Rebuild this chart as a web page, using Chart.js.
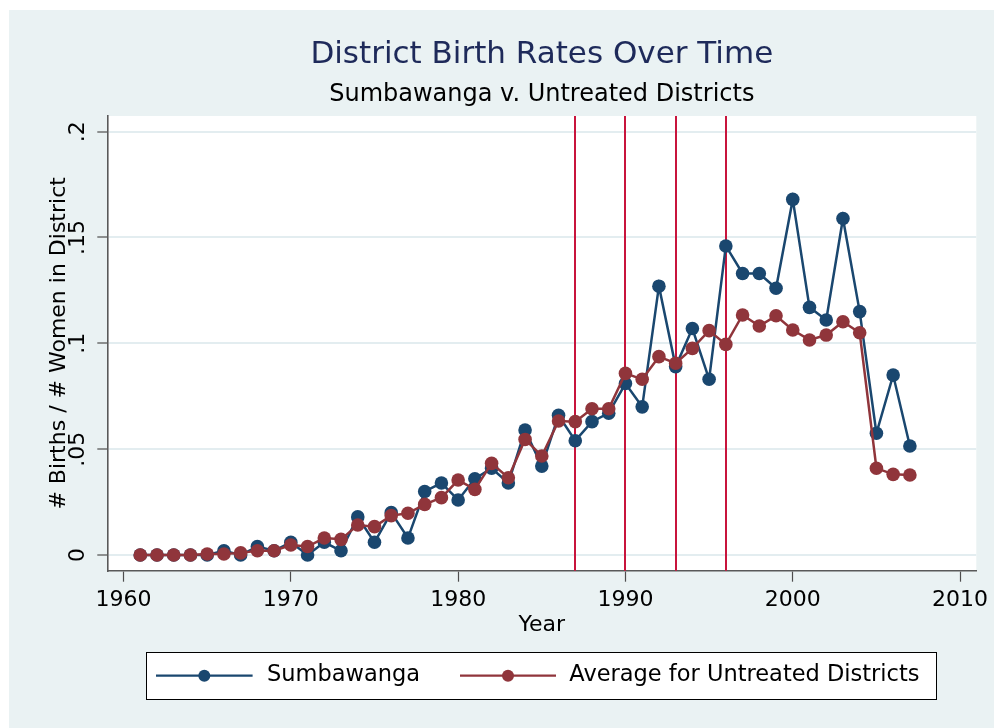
<!DOCTYPE html>
<html>
<head>
<meta charset="utf-8">
<script src="https://cdn.jsdelivr.net/npm/chart.js@4.4.0/dist/chart.umd.min.js"></script>
<style>
  html, body { margin: 0; padding: 0; background: #ffffff; }
  #wrap { position: absolute; left: 9px; top: 10px; width: 985px; height: 718px; background: #eaf2f3; }
</style>
</head>
<body>
<div id="wrap"><canvas id="chart" width="985" height="718"></canvas></div>
<script>
// data
const years = [1961, 1962, 1963, 1964, 1965, 1966, 1967, 1968, 1969, 1970,
  1971, 1972, 1973, 1974, 1975, 1976, 1977, 1978, 1979, 1980,
  1981, 1982, 1983, 1984, 1985, 1986, 1987, 1988, 1989, 1990,
  1991, 1992, 1993, 1994, 1995, 1996, 1997, 1998, 1999, 2000,
  2001, 2002, 2003, 2004, 2005, 2006, 2007];

const sumbawanga = [0, 0, 0, 0, 0, 0.002, 0, 0.004, 0.002, 0.006,
  0, 0.006, 0.002, 0.018, 0.006, 0.020, 0.008, 0.030, 0.034, 0.026,
  0.036, 0.041, 0.034, 0.059, 0.042, 0.066, 0.054, 0.063, 0.067, 0.081,
  0.070, 0.127, 0.089, 0.107, 0.083, 0.146, 0.133, 0.133, 0.126, 0.168,
  0.117, 0.111, 0.159, 0.115, 0.0575, 0.085, 0.0515];

const untreatedAvg = [0, 0, 0, 0, 0.0005, 0.0005, 0.001, 0.002, 0.002, 0.0047,
  0.004, 0.008, 0.0074, 0.0142, 0.0134, 0.0186, 0.0197, 0.0239, 0.0271, 0.0354,
  0.031, 0.0433, 0.0365, 0.0546, 0.0468, 0.0633, 0.063, 0.0691, 0.0691, 0.0858,
  0.083, 0.0937, 0.0906, 0.0976, 0.106, 0.0995, 0.1134, 0.1082, 0.113, 0.1063,
  0.1016, 0.1039, 0.1102, 0.105, 0.041, 0.0381, 0.0378];

const policyYears = [1987, 1990, 1993, 1996];

const xTicks = [1960, 1970, 1980, 1990, 2000, 2010];
const yTicks = [0, 0.05, 0.1, 0.15, 0.2];
const yTickLabels = ["0", ".05", ".1", ".15", ".2"];

const seriesNames = ["Sumbawanga", "Average for Untreated Districts"];

const BLUE = "#1a476f";
const RED = "#90353b";
const FONT = "'DejaVu Sans', sans-serif";

const toPoints = (vals) => years.map((yr, i) => ({ x: yr, y: vals[i] }));

// white plot region + the vertical lines under the series
const plotDecor = {
  id: "plotDecor",
  beforeDraw(chart) {
    const { ctx, chartArea: a } = chart;
    ctx.save();
    ctx.fillStyle = "#ffffff";
    ctx.fillRect(a.left, a.top, a.right - a.left, a.bottom - a.top);
    ctx.restore();
  },
  beforeDatasetsDraw(chart) {
    const { ctx, chartArea: a } = chart;
    const xs = chart.scales.x;
    ctx.save();
    ctx.strokeStyle = "#c8143c";
    ctx.lineWidth = 2;
    policyYears.forEach((yr) => {
      const px = Math.round(xs.getPixelForValue(yr));
      ctx.beginPath();
      ctx.moveTo(px, a.top);
      ctx.lineTo(px, a.bottom);
      ctx.stroke();
    });
    ctx.restore();
  },
};

// stata-style legend: framed box, line with a dot in the middle
const boxLegend = {
  id: "boxLegend",
  afterDraw(chart) {
    const { ctx, chartArea: a } = chart;
    const cx = (a.left + a.right) / 2;
    const left = cx - 395.5;
    const top = a.bottom + 81.6;
    const w = 790.3, h = 46.7;
    const my = top + h / 2;
    ctx.save();
    ctx.fillStyle = "#ffffff";
    ctx.fillRect(left, top, w, h);
    ctx.strokeStyle = "#000000";
    ctx.lineWidth = 1;
    ctx.strokeRect(Math.round(left) + 0.5, Math.round(top) + 0.5, Math.round(w), Math.round(h));

    const items = [
      { color: BLUE, x0: 9.7, x1: 106.3, tx: 120.7 },
      { color: RED, x0: 313.7, x1: 409.7, tx: 423 },
    ];
    ctx.font = "22.5px " + FONT;
    ctx.textBaseline = "middle";
    items.forEach((it, i) => {
      ctx.strokeStyle = it.color;
      ctx.lineWidth = 2.2;
      ctx.beginPath();
      ctx.moveTo(left + it.x0, my);
      ctx.lineTo(left + it.x1, my);
      ctx.stroke();
      ctx.fillStyle = it.color;
      ctx.beginPath();
      ctx.arc(left + (it.x0 + it.x1) / 2, my, 6, 0, Math.PI * 2);
      ctx.fill();
      ctx.fillStyle = "#000000";
      ctx.fillText(seriesNames[i], left + it.tx, my);
    });
    ctx.restore();
  },
};

const ctx = document.getElementById("chart").getContext("2d");

const chart = new Chart(ctx, {
  type: "line",
  data: {
    datasets: [
      {
        label: seriesNames[0],
        data: toPoints(sumbawanga),
        borderColor: BLUE,
        backgroundColor: BLUE,
        pointBackgroundColor: BLUE,
        borderWidth: 2.5,
        pointRadius: 6.8,
        pointBorderWidth: 0,
        order: 2,
      },
      {
        label: seriesNames[1],
        data: toPoints(untreatedAvg),
        borderColor: RED,
        backgroundColor: RED,
        pointBackgroundColor: RED,
        borderWidth: 2.5,
        pointRadius: 6.8,
        pointBorderWidth: 0,
        order: 1,
      },
    ],
  },
  options: {
    responsive: false,
    animation: false,
    events: [],
    layout: { padding: { top: 0, left: 30, right: 16.3, bottom: 89.2 } },
    plugins: {
      legend: { display: false },
      tooltip: { enabled: false },
      title: {
        display: true,
        text: "District Birth Rates Over Time",
        fullSize: false,
        color: "#1e2a5a",
        font: { family: FONT, size: 31, weight: "normal" },
        padding: { top: 26.4, bottom: 0 },
      },
      subtitle: {
        display: true,
        text: "Sumbawanga v. Untreated Districts",
        fullSize: false,
        color: "#000000",
        font: { family: FONT, size: 24, weight: "normal" },
        padding: { top: 6.5, bottom: 7.1 },
      },
    },
    scales: {
      x: {
        type: "linear",
        min: 1959.03,
        max: 2010.97,
        afterBuildTicks: (scale) => {
          scale.ticks = xTicks.map((v) => ({ value: v }));
        },
        afterFit: (scale) => {
          scale.height = 68.1;
        },
        ticks: {
          autoSkip: false,
          maxRotation: 0,
          color: "#000000",
          padding: 5.6,
          font: { family: FONT, size: 22 },
          callback: (v) => String(v),
        },
        grid: {
          drawOnChartArea: false,
          drawTicks: true,
          tickLength: 11,
          tickColor: "#4d4d4d",
          tickWidth: 1.2,
        },
        border: { color: "#595959", width: 1.6 },
        title: {
          display: true,
          text: "Year",
          color: "#000000",
          font: { family: FONT, size: 22 },
          padding: { top: 0, bottom: 0 },
        },
      },
      y: {
        type: "linear",
        min: -0.00742,
        max: 0.2074,
        afterBuildTicks: (scale) => {
          scale.ticks = yTicks.map((v) => ({ value: v }));
        },
        afterFit: (scale) => {
          scale.width = 68.3;
        },
        ticks: {
          autoSkip: false,
          minRotation: 90,
          maxRotation: 90,
          crossAlign: "center",
          color: "#000000",
          padding: 2,
          font: { family: FONT, size: 22 },
          callback: (v) => yTickLabels[yTicks.indexOf(v)],
        },
        grid: {
          color: "#e3edf0",
          lineWidth: 2,
          drawTicks: true,
          tickLength: 10,
          tickColor: "#4d4d4d",
          tickWidth: 1.2,
        },
        border: { color: "#595959", width: 1.6 },
        title: {
          display: true,
          text: "# Births / # Women in District",
          color: "#000000",
          font: { family: FONT, size: 22 },
          padding: { top: 7.3, bottom: 0 },
        },
      },
    },
  },
  plugins: [plotDecor, boxLegend],
});
</script>
</body>
</html>
